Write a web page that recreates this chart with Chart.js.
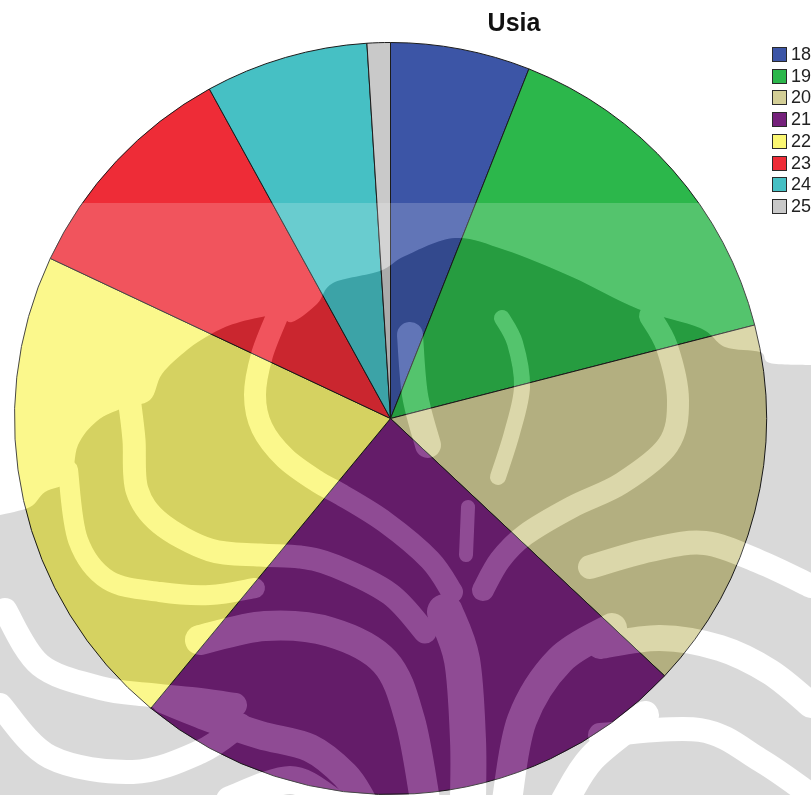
<!DOCTYPE html>
<html>
<head>
<meta charset="utf-8">
<script src="https://cdn.jsdelivr.net/npm/chart.js@4/dist/chart.umd.min.js"></script>
<style>
  html, body { margin: 0; padding: 0; background: #fff; overflow: hidden; }
  canvas { display: block; }
</style>
</head>
<body>
<canvas id="chart" width="811" height="795"></canvas>
<script>
// Age distribution of respondents
const chartTitle = 'Usia';
const ageLabels = ['18', '19', '20', '21', '22', '23', '24', '25'];
const respondentCounts = [6, 15, 16, 24, 21, 10, 7, 1];
const sliceColors = ['#3c55a6', '#2cb74b', '#d3ce96', '#75217b', '#fbf772', '#ee2c37', '#46c0c4', '#c9c9c9'];

// ---- background watermark (decorative) ----
const crownLine = [[0,515],[30,507],[45,492],[70,480],[78,445],[97,421],[123,408],[150,400],[162,374],[187,350],[213,333],[240,322],[277,315],[292,322],[317,304],[333,283],[380,271],[405,256],[455,238],[505,250],[572,277],[638,309],[700,328],[725,347],[760,352],[770,363],[811,365]];
const ribbons = [
  { w: 22, pts: [[278,314],[262,355],[255,395],[262,428],[285,458],[318,482],[340,494],[385,522],[430,560],[452,592]] },
  { w: 23, pts: [[130,405],[134,440],[137,490],[160,523],[210,550],[260,555],[300,557],[335,566],[390,594],[425,632]] },
  { w: 20, pts: [[68,470],[78,540],[108,580],[160,592],[210,595],[255,588]] },
  { w: 24, pts: [[5,610],[40,665],[100,688],[150,695],[200,700],[235,705]] },
  { w: 24, pts: [[0,705],[50,757],[133,772],[200,752],[240,725]] },
  { w: 30, pts: [[200,640],[265,626],[330,632],[385,662],[410,720],[425,800]] },
  { w: 28, pts: [[165,700],[210,718],[260,735],[310,748],[345,775],[362,800]] },
  { w: 28, pts: [[230,800],[290,780],[330,800]] },
  { w: 36, pts: [[445,612],[462,660],[468,740],[468,800]] },
  { w: 14, pts: [[468,507],[466,555]] },
  { w: 26, pts: [[410,335],[415,395],[428,445]] },
  { w: 22, pts: [[650,316],[667,347],[678,400],[668,445],[622,483],[572,507],[525,535],[500,560],[483,590]] },
  { w: 16, pts: [[502,318],[515,343],[522,387],[512,433],[498,477]] },
  { w: 24, pts: [[590,567],[650,550],[705,543],[760,562],[811,586]] },
  { w: 26, pts: [[600,646],[660,638],[720,648],[770,672],[811,705]] },
  { w: 24, pts: [[600,735],[700,730],[760,760],[811,795]] },
  { w: 30, pts: [[612,628],[560,660],[522,720],[507,800]] },
  { w: 28, pts: [[645,715],[592,758],[565,800]] }
];

function traceSmooth(c, pts, startNew) {
  if (startNew) c.moveTo(pts[0][0], pts[0][1]); else c.lineTo(pts[0][0], pts[0][1]);
  for (let i = 0; i < pts.length - 1; i++) {
    const p0 = pts[i - 1] || pts[i], p1 = pts[i], p2 = pts[i + 1], p3 = pts[i + 2] || p2;
    c.bezierCurveTo(
      p1[0] + (p2[0] - p0[0]) / 6, p1[1] + (p2[1] - p0[1]) / 6,
      p2[0] - (p3[0] - p1[0]) / 6, p2[1] - (p3[1] - p1[1]) / 6,
      p2[0], p2[1]);
  }
}

function buildMask(w, h) {
  const m = document.createElement('canvas');
  m.width = w; m.height = h;
  const c = m.getContext('2d');
  c.fillStyle = '#000';
  c.beginPath();
  traceSmooth(c, crownLine, true);
  c.lineTo(w, h); c.lineTo(0, h); c.closePath();
  c.fill();
  c.globalCompositeOperation = 'destination-out';
  c.lineCap = 'round'; c.lineJoin = 'round';
  ribbons.forEach(r => {
    c.lineWidth = r.w;
    c.beginPath();
    traceSmooth(c, r.pts, true);
    c.stroke();
  });
  return m;
}

const whiteBackground = {
  id: 'whiteBackground',
  beforeDraw(chart) {
    const { ctx, width, height } = chart;
    ctx.save();
    ctx.fillStyle = '#fff';
    ctx.fillRect(0, 0, width, height);
    ctx.restore();
  }
};

const watermark = {
  id: 'watermark',
  afterDatasetsDraw(chart) {
    const { ctx, width, height } = chart;
    const mask = buildMask(width, height);
    const veil = document.createElement('canvas');
    veil.width = width; veil.height = height;
    const v = veil.getContext('2d');
    v.fillStyle = '#fff';
    v.fillRect(0, 203, width, height - 203);
    v.globalCompositeOperation = 'destination-out';
    v.drawImage(mask, 0, 0);
    ctx.save();
    ctx.globalAlpha = 0.19;
    ctx.drawImage(veil, 0, 0);
    ctx.restore();

    const shade = document.createElement('canvas');
    shade.width = width; shade.height = height;
    const s = shade.getContext('2d');
    s.drawImage(mask, 0, 0);
    s.globalCompositeOperation = 'source-in';
    s.fillStyle = '#d9d9d9';
    s.fillRect(0, 0, width, height);
    ctx.save();
    ctx.globalCompositeOperation = 'multiply';
    ctx.drawImage(shade, 0, 0);
    ctx.restore();
  }
};

// Title and a legend column at the right edge
const titleAndLegend = {
  id: 'titleAndLegend',
  afterDraw(chart) {
    const { ctx } = chart;
    ctx.save();
    ctx.fillStyle = '#111';
    ctx.font = 'bold 25px "Liberation Sans", Arial, sans-serif';
    ctx.textAlign = 'center';
    ctx.textBaseline = 'alphabetic';
    ctx.fillText(chartTitle, 514, 31);

    const colors = chart.data.datasets[0].backgroundColor;
    ctx.font = '18px "Liberation Sans", Arial, sans-serif';
    ctx.textAlign = 'left';
    ctx.textBaseline = 'middle';
    chart.data.labels.forEach((lab, i) => {
      const y = Math.round(47 + i * 21.7);
      ctx.fillStyle = colors[i];
      ctx.fillRect(772, y, 15, 15);
      ctx.strokeStyle = '#2a2a2a';
      ctx.lineWidth = 1;
      ctx.strokeRect(772.5, y + 0.5, 14, 14);
      ctx.fillStyle = '#222';
      ctx.fillText(lab, 791, y + 8.5);
    });
    ctx.restore();
  }
};

new Chart(document.getElementById('chart'), {
  type: 'pie',
  data: {
    labels: ageLabels,
    datasets: [{
      data: respondentCounts,
      backgroundColor: sliceColors,
      borderColor: '#1c1c1c',
      borderWidth: 1
    }]
  },
  options: {
    responsive: false,
    animation: false,
    events: [],
    layout: { padding: { left: 14, top: 42, right: 44, bottom: 0 } },
    plugins: {
      legend: { display: false },
      title: { display: false },
      tooltip: { enabled: false }
    }
  },
  plugins: [whiteBackground, watermark, titleAndLegend]
});
</script>
</body>
</html>
